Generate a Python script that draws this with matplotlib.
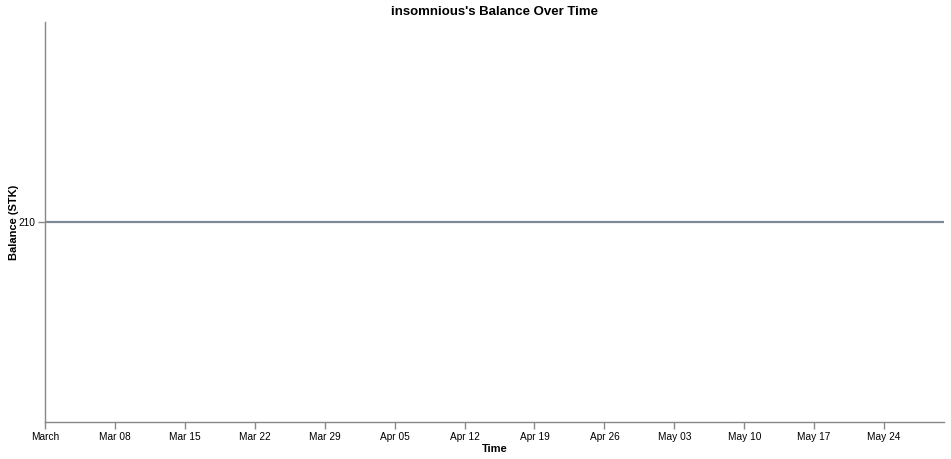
import matplotlib
matplotlib.use("Agg")
import matplotlib.pyplot as plt
import matplotlib.dates as mdates
import numpy as np
import datetime as dt

plt.rcParams['font.family'] = ['Liberation Sans', 'DejaVu Sans']

# balance history
dates = [dt.datetime(2024, 3, 1), dt.datetime(2024, 5, 30)]
balance = [210, 210]
tick_dates = [dt.datetime(2024, 3, 1) + dt.timedelta(days=7 * i) for i in range(13)]

def fmt_date(x, pos=None):
    d = mdates.num2date(x)
    if d.day == 1:
        return d.strftime('%B')
    return d.strftime('%b %d')

fig = plt.figure(figsize=(9.51, 4.59), dpi=100)
ax = fig.add_axes([45 / 951, 1 - 422 / 459, 899 / 951, 400 / 459])

ax.plot(dates, balance, color='#7f8a99', linewidth=1.6, solid_capstyle='butt')

ax.set_xlim(dates[0], dates[-1])
ax.set_ylim(209.5, 210.5)
ax.set_yticks([210])
ax.set_xticks(tick_dates)
ax.xaxis.set_major_formatter(plt.FuncFormatter(fmt_date))

for s in ['top', 'right']:
    ax.spines[s].set_visible(False)
for s in ['left', 'bottom']:
    ax.spines[s].set_color('#888888')
    ax.spines[s].set_linewidth(1)
ax.tick_params(axis='both', colors='#888888', length=5, width=1, labelsize=7.3,
               labelcolor='black', pad=2)

ax.set_title("insomnious's Balance Over Time", fontsize=9.5, fontweight='bold', pad=5)
ax.set_xlabel('Time', fontsize=8, fontweight='bold', labelpad=2)
ax.set_ylabel('Balance (STK)', fontsize=8, fontweight='bold')
ax.yaxis.set_label_coords(-26 / 899, 0.5)

fig.savefig('out.png', dpi=100)
